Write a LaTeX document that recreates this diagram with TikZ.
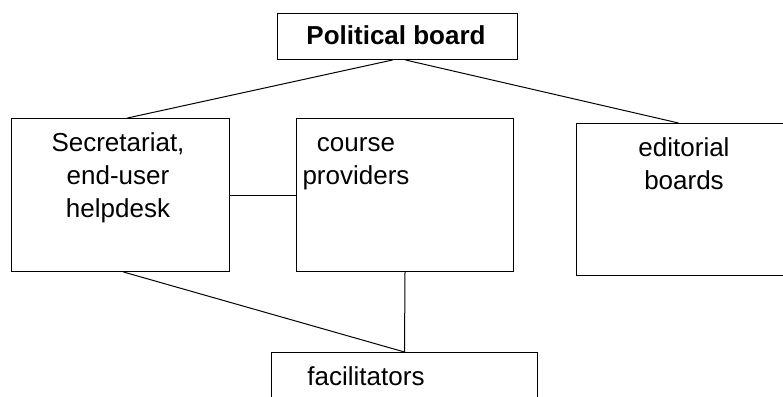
\documentclass[tikz,border=0pt]{standalone}
\usepackage{fontspec}
\setmainfont{Liberation Sans}
\begin{document}
\begin{tikzpicture}[x=1pt,y=1pt,
  box/.style={draw=black,line width=1pt,inner sep=0pt,anchor=north west},
  txt/.style={inner sep=0pt,align=center,anchor=base,font=\fontsize{26}{33}\selectfont},
  link/.style={draw=black,line width=1pt}]
\useasboundingbox (0,0) rectangle (783,-396);
\clip (0,0) rectangle (783,-396);
\node[box,minimum width=240,minimum height=46] (pol) at (277,-13) {};
\node[txt,font=\fontsize{26}{33}\selectfont\bfseries] (poltxt) at (396,-45) {Political board};
\node[box,minimum width=218,minimum height=153] (sec) at (11,-118) {};
\node[txt] (sectxt) at (118,-217) {Secretariat,\\end-user\\helpdesk};
\node[box,minimum width=217,minimum height=153] (cp) at (296,-118) {};
\node[txt] (cptxt) at (356,-184) {course\\providers};
\node[box,minimum width=216,minimum height=152] (edi) at (576,-123) {};
\node[txt] (editxt) at (684,-189) {editorial\\boards};
\node[box,minimum width=266,minimum height=70] (fac) at (271,-352) {};
\node[txt] (factxt) at (366,-385) {facilitators};
\draw[link] ([xshift=-5pt]pol.south) -- ([xshift=7pt]sec.north);
\draw[link] ([xshift=8pt]pol.south) -- ([xshift=-6pt]edi.north);
\draw[link] (sec.east) -- (cp.west);
\draw[link] (cp.south) -- (fac.north);
\draw[link] ([xshift=3pt]sec.south) -- (fac.north);
\end{tikzpicture}
\end{document}
